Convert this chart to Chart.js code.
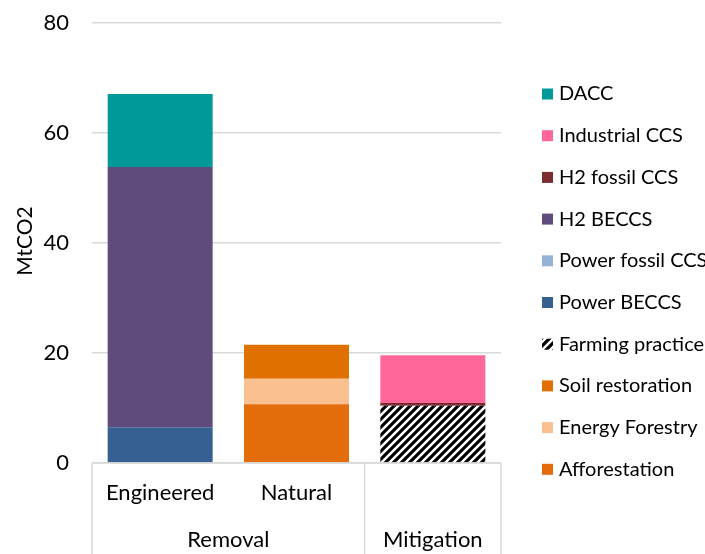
<!DOCTYPE html>
<html>
<head>
<meta charset="utf-8">
<script src="https://cdn.jsdelivr.net/npm/chart.js@4/dist/chart.umd.min.js"></script>
<style>
  html, body { margin: 0; padding: 0; background: #fff; }
  #wrap { width: 705px; height: 554px; }
</style>
</head>
<body>
<div id="wrap"><canvas id="c" width="705" height="554"></canvas></div>
<script>
// Categories and their parent groups on the horizontal axis
const categories = ['Engineered', 'Natural', 'Mitigation'];
const innerLabels = ['Engineered', 'Natural', ''];
const groupLabels = ['Removal', 'Mitigation'];
const groupSizes = [2, 1];

// Values in MtCO2, stacked bottom to top
const afforestation   = [0, 10.7, 0];
const energyForestry  = [0, 4.6, 0];
const soilRestoration = [0, 6.2, 0];
const farmingPractice = [0, 0, 10.4];
const powerBeccs      = [6.5, 0, 0];
const powerFossilCcs  = [0, 0, 0];
const h2Beccs         = [47.3, 0, 0];
const h2FossilCcs     = [0, 0, 0.5];
const industrialCcs   = [0, 0, 8.7];
const dacc            = [13.3, 0, 0];

const yTicks = [0, 20, 40, 60, 80];

const FONT = 'Lato';
const GRID = '#d9d9d9';

// Black/white diagonal hatch fill
function makeHatch() {
  const s = 8;
  const c = document.createElement('canvas');
  c.width = s; c.height = s;
  const g = c.getContext('2d');
  g.fillStyle = '#fff';
  g.fillRect(0, 0, s, s);
  g.strokeStyle = '#000';
  g.lineWidth = 3.1;
  g.beginPath();
  g.moveTo(-2, s + 2); g.lineTo(s + 2, -2);
  g.moveTo(-2, 2); g.lineTo(2, -2);
  g.moveTo(s - 2, s + 2); g.lineTo(s + 2, s - 2);
  g.stroke();
  return document.getElementById('c').getContext('2d').createPattern(c, 'repeat');
}
const hatch = makeHatch();

const series = [
  { label: 'Afforestation',    data: afforestation,   color: '#E46C0A' },
  { label: 'Energy Forestry',  data: energyForestry,  color: '#FAC090' },
  { label: 'Soil restoration', data: soilRestoration, color: '#E07000' },
  { label: 'Farming practice', data: farmingPractice, color: hatch },
  { label: 'Power BECCS',      data: powerBeccs,      color: '#366092' },
  { label: 'Power fossil CCS', data: powerFossilCcs,  color: '#95B3D7' },
  { label: 'H2 BECCS',         data: h2Beccs,         color: '#604C7C' },
  { label: 'H2 fossil CCS',    data: h2FossilCcs,     color: '#7B2C2E' },
  { label: 'Industrial CCS',   data: industrialCcs,   color: '#FF6699' },
  { label: 'DACC',             data: dacc,            color: '#009999' }
];

// Multi-level category axis, y-axis title and right-hand legend
const decorPlugin = {
  id: 'decor',
  afterDraw(chart) {
    const ctx = chart.ctx;
    const x = chart.scales.x;
    const area = chart.chartArea;
    const H = chart.height;
    const step = x.getPixelForValue(1) - x.getPixelForValue(0);
    const edge = i => x.getPixelForValue(0) - step / 2 + i * step;

    ctx.save();
    // axis lines
    ctx.strokeStyle = GRID;
    ctx.lineWidth = 1.5;
    ctx.beginPath();
    ctx.moveTo(area.left, area.bottom);
    ctx.lineTo(area.right, area.bottom);
    let idx = 0;
    ctx.moveTo(edge(0), area.bottom);
    ctx.lineTo(edge(0), H);
    groupSizes.forEach(n => {
      idx += n;
      ctx.moveTo(edge(idx), area.bottom);
      ctx.lineTo(edge(idx), H);
    });
    ctx.stroke();

    ctx.fillStyle = '#000';
    ctx.font = '22px ' + FONT;
    ctx.textAlign = 'center';
    ctx.textBaseline = 'middle';
    innerLabels.forEach((t, i) => {
      if (t) ctx.fillText(t, x.getPixelForValue(i), area.bottom + 30);
    });
    idx = 0;
    groupLabels.forEach((t, g) => {
      const a = edge(idx), b = edge(idx + groupSizes[g]);
      ctx.fillText(t, (a + b) / 2, area.bottom + 77);
      idx += groupSizes[g];
    });

    // y-axis title, centred on the plot area
    ctx.save();
    ctx.translate(25, (area.top + area.bottom) / 2 - 2);
    ctx.rotate(-Math.PI / 2);
    ctx.font = '21px ' + FONT;
    ctx.fillText('MtCO2', 0, 0);
    ctx.restore();

    // legend, top item is the top of the stack
    const ds = chart.data.datasets.slice().reverse();
    ctx.textAlign = 'left';
    ctx.font = '20px ' + FONT;
    ds.forEach((d, i) => {
      const cy = 94 + i * 41.7;
      ctx.fillStyle = d.backgroundColor;
      ctx.fillRect(542, cy - 5.5, 11, 11);
      ctx.fillStyle = '#000';
      ctx.fillText(d.label, 559, cy);
    });
    ctx.restore();
  }
};

new Chart(document.getElementById('c'), {
  type: 'bar',
  data: {
    labels: categories,
    datasets: series.map(s => ({
      label: s.label,
      data: s.data,
      backgroundColor: s.color,
      borderWidth: 0,
      categoryPercentage: 1,
      barPercentage: 0.77
    }))
  },
  options: {
    responsive: false,
    animation: false,
    devicePixelRatio: 1,
    layout: { padding: { top: 23, right: 204, left: 0, bottom: 0 } },
    plugins: {
      legend: { display: false },
      tooltip: { enabled: false }
    },
    scales: {
      x: {
        stacked: true,
        grid: { display: false },
        border: { display: false },
        ticks: { display: false },
        afterFit(s) { s.height = 91; }
      },
      y: {
        stacked: true,
        min: 0,
        max: 80,
        afterBuildTicks(s) { s.ticks = yTicks.map(v => ({ value: v })); },
        grid: { color: GRID, lineWidth: 1.5, drawTicks: false },
        border: { display: false },
        ticks: {
          padding: 23,
          color: '#000',
          font: { family: FONT, size: 22 }
        },
        afterFit(s) {
          s.width = 92;
          s.paddingTop = 0;
          s.paddingBottom = 0;
        }
      }
    }
  },
  plugins: [decorPlugin]
});
</script>
</body>
</html>
